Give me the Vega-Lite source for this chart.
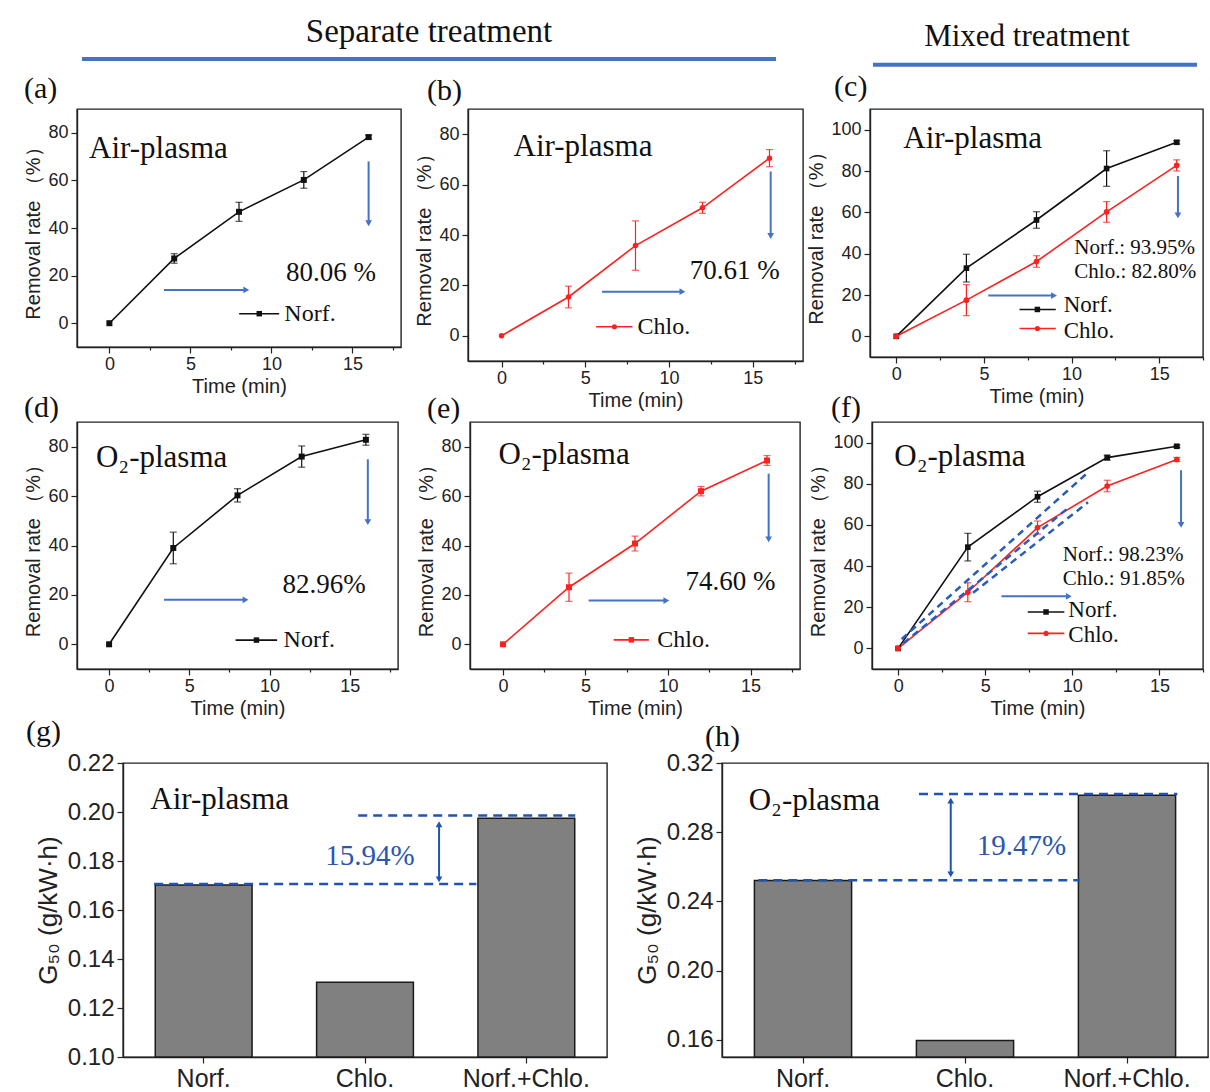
{
"$schema": "https://vega.github.io/schema/vega-lite/v6.json",
"autosize": {"type": "pad"},
"padding": {"left": 23, "top": 15, "right": 0, "bottom": 0},
"background": "white",
"config": {
 "font": "Liberation Sans",
 "view": {"stroke": "#222", "strokeWidth": 1.4},
 "axis": {"labelFont": "Liberation Sans", "labelFontSize": 18, "labelColor": "#222", "titleFont": "Liberation Sans", "titleFontSize": 20, "titleFontWeight": "normal", "titleColor": "#222", "domainColor": "#222", "domainWidth": 1.4, "tickColor": "#222", "tickWidth": 1.2, "grid": false, "labelPadding": 3, "titlePadding": 4, "labelOverlap": false},
 "axisX": {"labelPadding": 2, "titlePadding": 3},
 "title": {"font": "Liberation Serif", "fontSize": 30, "fontWeight": "normal", "anchor": "start", "baseline": "bottom", "color": "#111", "frame": "group"}
},
"datasets": {
 "curves": [
  {"panel": "a", "series": "Norf.", "t": 0, "v": 0, "err": 0},
  {"panel": "a", "series": "Norf.", "t": 4, "v": 27.2, "err": 2},
  {"panel": "a", "series": "Norf.", "t": 8, "v": 46.8, "err": 4},
  {"panel": "a", "series": "Norf.", "t": 12, "v": 60.2, "err": 3.5},
  {"panel": "a", "series": "Norf.", "t": 16, "v": 78.2, "err": 0.8},
  {"panel": "b", "series": "Chlo.", "t": 0, "v": 0, "err": 0},
  {"panel": "b", "series": "Chlo.", "t": 4, "v": 15.4, "err": 4.3},
  {"panel": "b", "series": "Chlo.", "t": 8, "v": 35.8, "err": 9.8},
  {"panel": "b", "series": "Chlo.", "t": 12, "v": 50.8, "err": 2.2},
  {"panel": "b", "series": "Chlo.", "t": 16, "v": 70.5, "err": 3.4},
  {"panel": "c", "series": "Norf.", "t": 0, "v": 0, "err": 0},
  {"panel": "c", "series": "Norf.", "t": 4, "v": 33, "err": 6.7},
  {"panel": "c", "series": "Norf.", "t": 8, "v": 56.3, "err": 4},
  {"panel": "c", "series": "Norf.", "t": 12, "v": 81.2, "err": 8.6},
  {"panel": "c", "series": "Norf.", "t": 16, "v": 93.9, "err": 0.8},
  {"panel": "c", "series": "Chlo.", "t": 0, "v": 0, "err": 0},
  {"panel": "c", "series": "Chlo.", "t": 4, "v": 17.5, "err": 7.5},
  {"panel": "c", "series": "Chlo.", "t": 8, "v": 36.2, "err": 2.8},
  {"panel": "c", "series": "Chlo.", "t": 12, "v": 60.2, "err": 5},
  {"panel": "c", "series": "Chlo.", "t": 16, "v": 82.7, "err": 2.7},
  {"panel": "d", "series": "Norf.", "t": 0, "v": 0, "err": 0},
  {"panel": "d", "series": "Norf.", "t": 4, "v": 39, "err": 6.4},
  {"panel": "d", "series": "Norf.", "t": 8, "v": 60.3, "err": 2.7},
  {"panel": "d", "series": "Norf.", "t": 12, "v": 76, "err": 4.3},
  {"panel": "d", "series": "Norf.", "t": 16, "v": 82.8, "err": 2.2},
  {"panel": "e", "series": "Chlo.", "t": 0, "v": 0, "err": 0},
  {"panel": "e", "series": "Chlo.", "t": 4, "v": 23.1, "err": 5.7},
  {"panel": "e", "series": "Chlo.", "t": 8, "v": 40.8, "err": 3},
  {"panel": "e", "series": "Chlo.", "t": 12, "v": 62, "err": 1.9},
  {"panel": "e", "series": "Chlo.", "t": 16, "v": 74.4, "err": 2},
  {"panel": "f", "series": "Norf.", "t": 0, "v": 0, "err": 0},
  {"panel": "f", "series": "Norf.", "t": 4, "v": 49.2, "err": 6.7},
  {"panel": "f", "series": "Norf.", "t": 8, "v": 73.7, "err": 2.7},
  {"panel": "f", "series": "Norf.", "t": 12, "v": 92.7, "err": 1.2},
  {"panel": "f", "series": "Norf.", "t": 16, "v": 98.2, "err": 0.6},
  {"panel": "f", "series": "Chlo.", "t": 0, "v": 0, "err": 0},
  {"panel": "f", "series": "Chlo.", "t": 4, "v": 27.3, "err": 4.6},
  {"panel": "f", "series": "Chlo.", "t": 8, "v": 58.7, "err": 3.2},
  {"panel": "f", "series": "Chlo.", "t": 12, "v": 78.9, "err": 2.8},
  {"panel": "f", "series": "Chlo.", "t": 16, "v": 91.8, "err": 1}
 ],
 "bars": [
  {"panel": "g", "cond": "Norf.", "g50": 0.1702},
  {"panel": "g", "cond": "Chlo.", "g50": 0.1305},
  {"panel": "g", "cond": "Norf.+Chlo.", "g50": 0.1974},
  {"panel": "h", "cond": "Norf.", "g50": 0.2521},
  {"panel": "h", "cond": "Chlo.", "g50": 0.1596},
  {"panel": "h", "cond": "Norf.+Chlo.", "g50": 0.3013}
 ]
},
"spacing": -19,
"vconcat": [
 {
  "bounds": "flush", "spacing": 67,
  "hconcat": [
   {
    "width": 324, "height": 238,
    "data": {"values": [{}]},
    "layer": [
     {"data": {"name": "curves"}, "transform": [{"filter": "datum.panel === 'a' && datum.err > 0"}], "mark": {"type": "errorbar", "ticks": true, "size": 7, "thickness": 1.2}, "encoding": {"x": {"field": "t", "type": "quantitative", "title": "Time (min)"}, "y": {"field": "v", "type": "quantitative", "title": "Removal rate （%）"}, "yError": {"field": "err"}, "color": {"field": "series", "type": "nominal", "scale": {"domain": ["Norf.", "Chlo."], "range": ["#111111", "#ff2020"]}, "legend": null}}},
     {"data": {"name": "curves"}, "transform": [{"filter": "datum.panel === 'a'"}], "mark": {"type": "line", "strokeWidth": 1.6}, "encoding": {
       "x": {"field": "t", "type": "quantitative", "title": "Time (min)", "scale": {"domain": [-2, 18], "nice": false, "zero": false}, "axis": {"title": "Time (min)", "labelOverlap": false, "values": [0, 2.5, 5, 7.5, 10, 12.5, 15, 17.5], "labelExpr": "datum.value % 5 === 0 ? format(datum.value, 'd') : ''", "tickSize": {"condition": {"test": "datum.value % 5 !== 0", "value": 3}, "value": 6}}},
       "y": {"field": "v", "type": "quantitative", "title": "Removal rate （%）", "scale": {"domain": [-10, 90], "nice": false, "zero": false}, "axis": {"title": "Removal rate （%）", "labelOverlap": false, "values": [0, 10, 20, 30, 40, 50, 60, 70, 80], "labelExpr": "datum.value % 20 === 0 ? format(datum.value, 'd') : ''", "tickSize": {"condition": {"test": "datum.value % 20 !== 0", "value": 3}, "value": 6}}},
       "color": {"field": "series", "type": "nominal", "legend": null}}},
     {"data": {"name": "curves"}, "transform": [{"filter": "datum.panel === 'a'"}], "mark": {"type": "point", "shape": "square", "filled": true, "opacity": 1, "size": 36}, "encoding": {"x": {"field": "t", "type": "quantitative", "title": "Time (min)"}, "y": {"field": "v", "type": "quantitative", "title": "Removal rate （%）"}, "color": {"field": "series", "type": "nominal", "legend": null}}},
     {"mark": {"type": "text", "font": "Liberation Serif", "fontSize": 30, "align": "left", "baseline": "middle", "color": "#111"}, "encoding": {"x": {"datum": -5.27}, "y": {"datum": 98.4}, "text": {"value": "(a)"}}},
     {"mark": {"type": "text", "font": "Liberation Serif", "fontSize": 33, "align": "center", "baseline": "middle", "color": "#111"}, "encoding": {"x": {"datum": 19.73}, "y": {"datum": 122.35}, "text": {"value": "Separate treatment"}}},
     {"mark": {"type": "rule", "color": "#4472c4", "strokeWidth": 4}, "encoding": {"x": {"datum": -1.69}, "x2": {"datum": 41.15}, "y": {"datum": 111.0}}},
     {"mark": {"type": "text", "font": "Liberation Serif", "fontSize": 31, "align": "left", "baseline": "middle", "color": "#111"}, "encoding": {"x": {"datum": -1.26}, "y": {"datum": 73}, "text": {"value": "Air-plasma"}}},
     {"mark": {"type": "text", "font": "Liberation Serif", "fontSize": 27, "align": "center", "baseline": "middle", "color": "#111"}, "encoding": {"x": {"datum": 13.68}, "y": {"datum": 21.1}, "text": {"value": "80.06 %"}}},
     {"mark": {"type": "rule", "color": "#4472c4", "strokeWidth": 2}, "encoding": {"x": {"datum": 3.37}, "x2": {"datum": 8.45}, "y": {"datum": 14}}},
     {"mark": {"type": "point", "shape": "triangle-right", "filled": true, "opacity": 1, "color": "#4472c4", "size": 45}, "encoding": {"x": {"datum": 8.45}, "y": {"datum": 14}}},
     {"mark": {"type": "rule", "color": "#4472c4", "strokeWidth": 2}, "encoding": {"x": {"datum": 16.0}, "y": {"datum": 68}, "y2": {"datum": 42}}},
     {"mark": {"type": "point", "shape": "triangle-down", "filled": true, "opacity": 1, "color": "#4472c4", "size": 45}, "encoding": {"x": {"datum": 16.0}, "y": {"datum": 42}}},
     {"mark": {"type": "rule", "color": "#111111", "strokeWidth": 1.6}, "encoding": {"x": {"datum": 8.01}, "x2": {"datum": 10.48}, "y": {"datum": 4}}},
     {"mark": {"type": "point", "shape": "square", "filled": true, "opacity": 1, "color": "#111111", "size": 30}, "encoding": {"x": {"datum": 9.25}, "y": {"datum": 4}}},
     {"mark": {"type": "text", "font": "Liberation Serif", "fontSize": 24, "align": "left", "baseline": "middle", "color": "#111"}, "encoding": {"x": {"datum": 10.8}, "y": {"datum": 4}, "text": {"value": "Norf."}}}
    ]
   },
   {
    "width": 335, "height": 252,
    "title": {"text": "(b)", "dx": -41, "offset": 3},
    "data": {"values": [{}]},
    "layer": [
     {"data": {"name": "curves"}, "transform": [{"filter": "datum.panel === 'b' && datum.err > 0"}], "mark": {"type": "errorbar", "ticks": true, "size": 7, "thickness": 1.2}, "encoding": {"x": {"field": "t", "type": "quantitative", "title": "Time (min)"}, "y": {"field": "v", "type": "quantitative", "title": "Removal rate （%）"}, "yError": {"field": "err"}, "color": {"field": "series", "type": "nominal", "scale": {"domain": ["Norf.", "Chlo."], "range": ["#111111", "#ff2020"]}, "legend": null}}},
     {"data": {"name": "curves"}, "transform": [{"filter": "datum.panel === 'b'"}], "mark": {"type": "line", "strokeWidth": 1.6}, "encoding": {
       "x": {"field": "t", "type": "quantitative", "title": "Time (min)", "scale": {"domain": [-2, 18], "nice": false, "zero": false}, "axis": {"title": "Time (min)", "labelOverlap": false, "values": [0, 2.5, 5, 7.5, 10, 12.5, 15, 17.5], "labelExpr": "datum.value % 5 === 0 ? format(datum.value, 'd') : ''", "tickSize": {"condition": {"test": "datum.value % 5 !== 0", "value": 3}, "value": 6}}},
       "y": {"field": "v", "type": "quantitative", "title": "Removal rate （%）", "scale": {"domain": [-10, 90], "nice": false, "zero": false}, "axis": {"title": "Removal rate （%）", "labelOverlap": false, "values": [0, 10, 20, 30, 40, 50, 60, 70, 80], "labelExpr": "datum.value % 20 === 0 ? format(datum.value, 'd') : ''", "tickSize": {"condition": {"test": "datum.value % 20 !== 0", "value": 3}, "value": 6}}},
       "color": {"field": "series", "type": "nominal", "legend": null}}},
     {"data": {"name": "curves"}, "transform": [{"filter": "datum.panel === 'b'"}], "mark": {"type": "point", "shape": "circle", "filled": true, "opacity": 1, "size": 30}, "encoding": {"x": {"field": "t", "type": "quantitative", "title": "Time (min)"}, "y": {"field": "v", "type": "quantitative", "title": "Removal rate （%）"}, "color": {"field": "series", "type": "nominal", "legend": null}}},
     {"mark": {"type": "text", "font": "Liberation Serif", "fontSize": 31, "align": "left", "baseline": "middle", "color": "#111"}, "encoding": {"x": {"datum": 0.72}, "y": {"datum": 75.1}, "text": {"value": "Air-plasma"}}},
     {"mark": {"type": "text", "font": "Liberation Serif", "fontSize": 27, "align": "center", "baseline": "middle", "color": "#111"}, "encoding": {"x": {"datum": 13.92}, "y": {"datum": 25.8}, "text": {"value": "70.61 %"}}},
     {"mark": {"type": "rule", "color": "#4472c4", "strokeWidth": 2}, "encoding": {"x": {"datum": 6.0}, "x2": {"datum": 10.8}, "y": {"datum": 17.5}}},
     {"mark": {"type": "point", "shape": "triangle-right", "filled": true, "opacity": 1, "color": "#4472c4", "size": 45}, "encoding": {"x": {"datum": 10.8}, "y": {"datum": 17.5}}},
     {"mark": {"type": "rule", "color": "#4472c4", "strokeWidth": 2}, "encoding": {"x": {"datum": 16.07}, "y": {"datum": 65.2}, "y2": {"datum": 39.6}}},
     {"mark": {"type": "point", "shape": "triangle-down", "filled": true, "opacity": 1, "color": "#4472c4", "size": 45}, "encoding": {"x": {"datum": 16.07}, "y": {"datum": 39.6}}},
     {"mark": {"type": "rule", "color": "#ff2020", "strokeWidth": 1.6}, "encoding": {"x": {"datum": 5.65}, "x2": {"datum": 7.82}, "y": {"datum": 3.6}}},
     {"mark": {"type": "point", "shape": "circle", "filled": true, "opacity": 1, "color": "#ff2020", "size": 26}, "encoding": {"x": {"datum": 6.74}, "y": {"datum": 3.6}}},
     {"mark": {"type": "text", "font": "Liberation Serif", "fontSize": 24, "align": "left", "baseline": "middle", "color": "#111"}, "encoding": {"x": {"datum": 8.12}, "y": {"datum": 3.6}, "text": {"value": "Chlo."}}}
    ]
   },
   {
    "width": 333, "height": 248,
    "data": {"values": [{}]},
    "layer": [
     {"data": {"name": "curves"}, "transform": [{"filter": "datum.panel === 'c' && datum.err > 0"}], "mark": {"type": "errorbar", "ticks": true, "size": 7, "thickness": 1.2}, "encoding": {"x": {"field": "t", "type": "quantitative", "title": "Time (min)"}, "y": {"field": "v", "type": "quantitative", "title": "Removal rate （%）"}, "yError": {"field": "err"}, "color": {"field": "series", "type": "nominal", "scale": {"domain": ["Norf.", "Chlo."], "range": ["#111111", "#ff2020"]}, "legend": null}}},
     {"data": {"name": "curves"}, "transform": [{"filter": "datum.panel === 'c'"}], "mark": {"type": "line", "strokeWidth": 1.6}, "encoding": {
       "x": {"field": "t", "type": "quantitative", "title": "Time (min)", "scale": {"domain": [-1.5, 17.5], "nice": false, "zero": false}, "axis": {"title": "Time (min)", "labelOverlap": false, "values": [0, 2.5, 5, 7.5, 10, 12.5, 15, 17.5], "labelExpr": "datum.value % 5 === 0 ? format(datum.value, 'd') : ''", "tickSize": {"condition": {"test": "datum.value % 5 !== 0", "value": 3}, "value": 6}}},
       "y": {"field": "v", "type": "quantitative", "title": "Removal rate （%）", "scale": {"domain": [-10, 110], "nice": false, "zero": false}, "axis": {"title": "Removal rate （%）", "labelOverlap": false, "values": [0, 10, 20, 30, 40, 50, 60, 70, 80, 90, 100], "labelExpr": "datum.value % 20 === 0 ? format(datum.value, 'd') : ''", "tickSize": {"condition": {"test": "datum.value % 20 !== 0", "value": 3}, "value": 6}}},
       "color": {"field": "series", "type": "nominal", "legend": null}}},
     {"data": {"name": "curves"}, "transform": [{"filter": "datum.panel === 'c'"}], "mark": {"type": "point", "filled": true, "opacity": 1, "size": 32}, "encoding": {"x": {"field": "t", "type": "quantitative", "title": "Time (min)"}, "y": {"field": "v", "type": "quantitative", "title": "Removal rate （%）"}, "color": {"field": "series", "type": "nominal", "legend": null}, "shape": {"field": "series", "type": "nominal", "scale": {"domain": ["Norf.", "Chlo."], "range": ["square", "circle"]}, "legend": null}}},
     {"mark": {"type": "text", "font": "Liberation Serif", "fontSize": 30, "align": "left", "baseline": "middle", "color": "#111"}, "encoding": {"x": {"datum": -3.55}, "y": {"datum": 120.6}, "text": {"value": "(c)"}}},
     {"mark": {"type": "text", "font": "Liberation Serif", "fontSize": 31, "align": "center", "baseline": "middle", "color": "#111"}, "encoding": {"x": {"datum": 7.46}, "y": {"datum": 144.8}, "text": {"value": "Mixed treatment"}}},
     {"mark": {"type": "rule", "color": "#4472c4", "strokeWidth": 4}, "encoding": {"x": {"datum": -1.33}, "x2": {"datum": 17.16}, "y": {"datum": 131.4}}},
     {"mark": {"type": "text", "font": "Liberation Serif", "fontSize": 31, "align": "left", "baseline": "middle", "color": "#111"}, "encoding": {"x": {"datum": 0.4}, "y": {"datum": 95.5}, "text": {"value": "Air-plasma"}}},
     {"mark": {"type": "text", "font": "Liberation Serif", "fontSize": 21, "align": "left", "baseline": "middle", "color": "#111"}, "encoding": {"x": {"datum": 10.16}, "y": {"datum": 42.7}, "text": {"value": "Norf.: 93.95%"}}},
     {"mark": {"type": "text", "font": "Liberation Serif", "fontSize": 21, "align": "left", "baseline": "middle", "color": "#111"}, "encoding": {"x": {"datum": 10.16}, "y": {"datum": 31}, "text": {"value": "Chlo.: 82.80%"}}},
     {"mark": {"type": "rule", "color": "#4472c4", "strokeWidth": 2}, "encoding": {"x": {"datum": 5.25}, "x2": {"datum": 9.0}, "y": {"datum": 19.7}}},
     {"mark": {"type": "point", "shape": "triangle-right", "filled": true, "opacity": 1, "color": "#4472c4", "size": 45}, "encoding": {"x": {"datum": 9.0}, "y": {"datum": 19.7}}},
     {"mark": {"type": "rule", "color": "#4472c4", "strokeWidth": 2}, "encoding": {"x": {"datum": 16.07}, "y": {"datum": 77.6}, "y2": {"datum": 58.5}}},
     {"mark": {"type": "point", "shape": "triangle-down", "filled": true, "opacity": 1, "color": "#4472c4", "size": 45}, "encoding": {"x": {"datum": 16.07}, "y": {"datum": 58.5}}},
     {"mark": {"type": "rule", "color": "#111111", "strokeWidth": 1.6}, "encoding": {"x": {"datum": 7.03}, "x2": {"datum": 9.1}, "y": {"datum": 13}}},
     {"mark": {"type": "point", "shape": "square", "filled": true, "opacity": 1, "color": "#111111", "size": 30}, "encoding": {"x": {"datum": 8.05}, "y": {"datum": 13}}},
     {"mark": {"type": "text", "font": "Liberation Serif", "fontSize": 23, "align": "left", "baseline": "middle", "color": "#111"}, "encoding": {"x": {"datum": 9.55}, "y": {"datum": 15}, "text": {"value": "Norf."}}},
     {"mark": {"type": "rule", "color": "#ff2020", "strokeWidth": 1.6}, "encoding": {"x": {"datum": 7.03}, "x2": {"datum": 9.1}, "y": {"datum": 3.8}}},
     {"mark": {"type": "point", "shape": "circle", "filled": true, "opacity": 1, "color": "#ff2020", "size": 26}, "encoding": {"x": {"datum": 8.05}, "y": {"datum": 3.8}}},
     {"mark": {"type": "text", "font": "Liberation Serif", "fontSize": 23, "align": "left", "baseline": "middle", "color": "#111"}, "encoding": {"x": {"datum": 9.55}, "y": {"datum": 2.5}, "text": {"value": "Chlo."}}}
    ]
   }
  ]
 },
 {
  "spacing": -3,
  "vconcat": [
   {
    "bounds": "flush", "spacing": 72,
    "hconcat": [
     {
      "width": 321, "height": 247,
      "title": {"text": "(d)", "dx": -53, "offset": -1},
      "data": {"values": [{}]},
      "layer": [
       {"data": {"name": "curves"}, "transform": [{"filter": "datum.panel === 'd' && datum.err > 0"}], "mark": {"type": "errorbar", "ticks": true, "size": 7, "thickness": 1.2}, "encoding": {"x": {"field": "t", "type": "quantitative", "title": "Time (min)"}, "y": {"field": "v", "type": "quantitative", "title": "Removal rate （%）"}, "yError": {"field": "err"}, "color": {"field": "series", "type": "nominal", "scale": {"domain": ["Norf.", "Chlo."], "range": ["#111111", "#ff2020"]}, "legend": null}}},
       {"data": {"name": "curves"}, "transform": [{"filter": "datum.panel === 'd'"}], "mark": {"type": "line", "strokeWidth": 1.6}, "encoding": {
         "x": {"field": "t", "type": "quantitative", "title": "Time (min)", "scale": {"domain": [-2, 18], "nice": false, "zero": false}, "axis": {"title": "Time (min)", "labelOverlap": false, "values": [0, 2.5, 5, 7.5, 10, 12.5, 15, 17.5], "labelExpr": "datum.value % 5 === 0 ? format(datum.value, 'd') : ''", "tickSize": {"condition": {"test": "datum.value % 5 !== 0", "value": 3}, "value": 6}}},
         "y": {"field": "v", "type": "quantitative", "title": "Removal rate （%）", "scale": {"domain": [-10, 90], "nice": false, "zero": false}, "axis": {"title": "Removal rate （%）", "labelOverlap": false, "values": [0, 10, 20, 30, 40, 50, 60, 70, 80], "labelExpr": "datum.value % 20 === 0 ? format(datum.value, 'd') : ''", "tickSize": {"condition": {"test": "datum.value % 20 !== 0", "value": 3}, "value": 6}}},
         "color": {"field": "series", "type": "nominal", "legend": null}}},
       {"data": {"name": "curves"}, "transform": [{"filter": "datum.panel === 'd'"}], "mark": {"type": "point", "shape": "square", "filled": true, "opacity": 1, "size": 36}, "encoding": {"x": {"field": "t", "type": "quantitative", "title": "Time (min)"}, "y": {"field": "v", "type": "quantitative", "title": "Removal rate （%）"}, "color": {"field": "series", "type": "nominal", "legend": null}}},
       {"mark": {"type": "text", "font": "Liberation Serif", "fontSize": 31, "align": "left", "baseline": "middle", "color": "#111"}, "encoding": {"x": {"datum": -0.82}, "y": {"datum": 75.6}, "text": {"value": "O₂-plasma"}}},
       {"mark": {"type": "text", "font": "Liberation Serif", "fontSize": 27, "align": "center", "baseline": "middle", "color": "#111"}, "encoding": {"x": {"datum": 13.4}, "y": {"datum": 24.1}, "text": {"value": "82.96%"}}},
       {"mark": {"type": "rule", "color": "#4472c4", "strokeWidth": 2}, "encoding": {"x": {"datum": 3.42}, "x2": {"datum": 8.5}, "y": {"datum": 18}}},
       {"mark": {"type": "point", "shape": "triangle-right", "filled": true, "opacity": 1, "color": "#4472c4", "size": 45}, "encoding": {"x": {"datum": 8.5}, "y": {"datum": 18}}},
       {"mark": {"type": "rule", "color": "#4472c4", "strokeWidth": 2}, "encoding": {"x": {"datum": 16.12}, "y": {"datum": 74.9}, "y2": {"datum": 49.5}}},
       {"mark": {"type": "point", "shape": "triangle-down", "filled": true, "opacity": 1, "color": "#4472c4", "size": 45}, "encoding": {"x": {"datum": 16.12}, "y": {"datum": 49.5}}},
       {"mark": {"type": "rule", "color": "#111111", "strokeWidth": 1.6}, "encoding": {"x": {"datum": 7.88}, "x2": {"datum": 10.47}, "y": {"datum": 1.7}}},
       {"mark": {"type": "point", "shape": "square", "filled": true, "opacity": 1, "color": "#111111", "size": 30}, "encoding": {"x": {"datum": 9.18}, "y": {"datum": 1.7}}},
       {"mark": {"type": "text", "font": "Liberation Serif", "fontSize": 24, "align": "left", "baseline": "middle", "color": "#111"}, "encoding": {"x": {"datum": 10.87}, "y": {"datum": 1.7}, "text": {"value": "Norf."}}}
      ]
     },
     {
      "width": 330, "height": 247,
      "title": {"text": "(e)", "dx": -43, "offset": -2},
      "data": {"values": [{}]},
      "layer": [
       {"data": {"name": "curves"}, "transform": [{"filter": "datum.panel === 'e' && datum.err > 0"}], "mark": {"type": "errorbar", "ticks": true, "size": 7, "thickness": 1.2}, "encoding": {"x": {"field": "t", "type": "quantitative", "title": "Time (min)"}, "y": {"field": "v", "type": "quantitative", "title": "Removal rate （%）"}, "yError": {"field": "err"}, "color": {"field": "series", "type": "nominal", "scale": {"domain": ["Norf.", "Chlo."], "range": ["#111111", "#ff2020"]}, "legend": null}}},
       {"data": {"name": "curves"}, "transform": [{"filter": "datum.panel === 'e'"}], "mark": {"type": "line", "strokeWidth": 1.6}, "encoding": {
         "x": {"field": "t", "type": "quantitative", "title": "Time (min)", "scale": {"domain": [-2, 18], "nice": false, "zero": false}, "axis": {"title": "Time (min)", "labelOverlap": false, "values": [0, 2.5, 5, 7.5, 10, 12.5, 15, 17.5], "labelExpr": "datum.value % 5 === 0 ? format(datum.value, 'd') : ''", "tickSize": {"condition": {"test": "datum.value % 5 !== 0", "value": 3}, "value": 6}}},
         "y": {"field": "v", "type": "quantitative", "title": "Removal rate （%）", "scale": {"domain": [-10, 90], "nice": false, "zero": false}, "axis": {"title": "Removal rate （%）", "labelOverlap": false, "values": [0, 10, 20, 30, 40, 50, 60, 70, 80], "labelExpr": "datum.value % 20 === 0 ? format(datum.value, 'd') : ''", "tickSize": {"condition": {"test": "datum.value % 20 !== 0", "value": 3}, "value": 6}}},
         "color": {"field": "series", "type": "nominal", "legend": null}}},
       {"data": {"name": "curves"}, "transform": [{"filter": "datum.panel === 'e'"}], "mark": {"type": "point", "shape": "square", "filled": true, "opacity": 1, "size": 36}, "encoding": {"x": {"field": "t", "type": "quantitative", "title": "Time (min)"}, "y": {"field": "v", "type": "quantitative", "title": "Removal rate （%）"}, "color": {"field": "series", "type": "nominal", "legend": null}}},
       {"mark": {"type": "text", "font": "Liberation Serif", "fontSize": 31, "align": "left", "baseline": "middle", "color": "#111"}, "encoding": {"x": {"datum": -0.28}, "y": {"datum": 76.6}, "text": {"value": "O₂-plasma"}}},
       {"mark": {"type": "text", "font": "Liberation Serif", "fontSize": 27, "align": "center", "baseline": "middle", "color": "#111"}, "encoding": {"x": {"datum": 13.79}, "y": {"datum": 25.3}, "text": {"value": "74.60 %"}}},
       {"mark": {"type": "rule", "color": "#4472c4", "strokeWidth": 2}, "encoding": {"x": {"datum": 5.19}, "x2": {"datum": 9.9}, "y": {"datum": 17.7}}},
       {"mark": {"type": "point", "shape": "triangle-right", "filled": true, "opacity": 1, "color": "#4472c4", "size": 45}, "encoding": {"x": {"datum": 9.9}, "y": {"datum": 17.7}}},
       {"mark": {"type": "rule", "color": "#4472c4", "strokeWidth": 2}, "encoding": {"x": {"datum": 16.1}, "y": {"datum": 69.1}, "y2": {"datum": 42.5}}},
       {"mark": {"type": "point", "shape": "triangle-down", "filled": true, "opacity": 1, "color": "#4472c4", "size": 45}, "encoding": {"x": {"datum": 16.1}, "y": {"datum": 42.5}}},
       {"mark": {"type": "rule", "color": "#ff2020", "strokeWidth": 1.6}, "encoding": {"x": {"datum": 6.71}, "x2": {"datum": 8.84}, "y": {"datum": 1.8}}},
       {"mark": {"type": "point", "shape": "square", "filled": true, "opacity": 1, "color": "#ff2020", "size": 30}, "encoding": {"x": {"datum": 7.78}, "y": {"datum": 1.8}}},
       {"mark": {"type": "text", "font": "Liberation Serif", "fontSize": 24, "align": "left", "baseline": "middle", "color": "#111"}, "encoding": {"x": {"datum": 9.35}, "y": {"datum": 1.8}, "text": {"value": "Chlo."}}}
      ]
     },
     {
      "width": 331, "height": 247,
      "title": {"text": "(f)", "dx": -41, "offset": -1},
      "data": {"values": [{}]},
      "layer": [
       {"data": {"name": "curves"}, "transform": [{"filter": "datum.panel === 'f' && datum.err > 0"}], "mark": {"type": "errorbar", "ticks": true, "size": 7, "thickness": 1.2}, "encoding": {"x": {"field": "t", "type": "quantitative", "title": "Time (min)"}, "y": {"field": "v", "type": "quantitative", "title": "Removal rate （%）"}, "yError": {"field": "err"}, "color": {"field": "series", "type": "nominal", "scale": {"domain": ["Norf.", "Chlo."], "range": ["#111111", "#ff2020"]}, "legend": null}}},
       {"data": {"name": "curves"}, "transform": [{"filter": "datum.panel === 'f'"}], "mark": {"type": "line", "strokeWidth": 1.6}, "encoding": {
         "x": {"field": "t", "type": "quantitative", "title": "Time (min)", "scale": {"domain": [-1.5, 17.5], "nice": false, "zero": false}, "axis": {"title": "Time (min)", "labelOverlap": false, "values": [0, 2.5, 5, 7.5, 10, 12.5, 15, 17.5], "labelExpr": "datum.value % 5 === 0 ? format(datum.value, 'd') : ''", "tickSize": {"condition": {"test": "datum.value % 5 !== 0", "value": 3}, "value": 6}}},
         "y": {"field": "v", "type": "quantitative", "title": "Removal rate （%）", "scale": {"domain": [-10, 110], "nice": false, "zero": false}, "axis": {"title": "Removal rate （%）", "labelOverlap": false, "values": [0, 10, 20, 30, 40, 50, 60, 70, 80, 90, 100], "labelExpr": "datum.value % 20 === 0 ? format(datum.value, 'd') : ''", "tickSize": {"condition": {"test": "datum.value % 20 !== 0", "value": 3}, "value": 6}}},
         "color": {"field": "series", "type": "nominal", "legend": null}}},
       {"data": {"name": "curves"}, "transform": [{"filter": "datum.panel === 'f'"}], "mark": {"type": "point", "filled": true, "opacity": 1, "size": 32}, "encoding": {"x": {"field": "t", "type": "quantitative", "title": "Time (min)"}, "y": {"field": "v", "type": "quantitative", "title": "Removal rate （%）"}, "color": {"field": "series", "type": "nominal", "legend": null}, "shape": {"field": "series", "type": "nominal", "scale": {"domain": ["Norf.", "Chlo."], "range": ["square", "circle"]}, "legend": null}}},
       {"mark": {"type": "rule", "color": "#2a5cbf", "strokeWidth": 2.5, "strokeDash": [7, 5]}, "encoding": {"x": {"datum": 0.2}, "y": {"datum": 4.5}, "x2": {"datum": 10.9}, "y2": {"datum": 85.5}}},
       {"mark": {"type": "rule", "color": "#2a5cbf", "strokeWidth": 2.5, "strokeDash": [7, 5]}, "encoding": {"x": {"datum": 0.3}, "y": {"datum": 2.5}, "x2": {"datum": 9.8}, "y2": {"datum": 68.5}}},
       {"mark": {"type": "rule", "color": "#2a5cbf", "strokeWidth": 2.5, "strokeDash": [7, 5]}, "encoding": {"x": {"datum": 4.3}, "y": {"datum": 27}, "x2": {"datum": 10.9}, "y2": {"datum": 71}}},
       {"mark": {"type": "text", "font": "Liberation Serif", "fontSize": 31, "align": "left", "baseline": "middle", "color": "#111"}, "encoding": {"x": {"datum": -0.22}, "y": {"datum": 93}, "text": {"value": "O₂-plasma"}}},
       {"mark": {"type": "text", "font": "Liberation Serif", "fontSize": 21, "align": "left", "baseline": "middle", "color": "#111"}, "encoding": {"x": {"datum": 9.45}, "y": {"datum": 45.5}, "text": {"value": "Norf.: 98.23%"}}},
       {"mark": {"type": "text", "font": "Liberation Serif", "fontSize": 21, "align": "left", "baseline": "middle", "color": "#111"}, "encoding": {"x": {"datum": 9.45}, "y": {"datum": 33.9}, "text": {"value": "Chlo.: 91.85%"}}},
       {"mark": {"type": "rule", "color": "#4472c4", "strokeWidth": 2}, "encoding": {"x": {"datum": 5.93}, "x2": {"datum": 9.8}, "y": {"datum": 25.3}}},
       {"mark": {"type": "point", "shape": "triangle-right", "filled": true, "opacity": 1, "color": "#4472c4", "size": 45}, "encoding": {"x": {"datum": 9.8}, "y": {"datum": 25.3}}},
       {"mark": {"type": "rule", "color": "#4472c4", "strokeWidth": 2}, "encoding": {"x": {"datum": 16.24}, "y": {"datum": 86.6}, "y2": {"datum": 60}}},
       {"mark": {"type": "point", "shape": "triangle-down", "filled": true, "opacity": 1, "color": "#4472c4", "size": 45}, "encoding": {"x": {"datum": 16.24}, "y": {"datum": 60}}},
       {"mark": {"type": "rule", "color": "#111111", "strokeWidth": 1.6}, "encoding": {"x": {"datum": 7.44}, "x2": {"datum": 9.54}, "y": {"datum": 17.7}}},
       {"mark": {"type": "point", "shape": "square", "filled": true, "opacity": 1, "color": "#111111", "size": 30}, "encoding": {"x": {"datum": 8.49}, "y": {"datum": 17.7}}},
       {"mark": {"type": "text", "font": "Liberation Serif", "fontSize": 23, "align": "left", "baseline": "middle", "color": "#111"}, "encoding": {"x": {"datum": 9.77}, "y": {"datum": 18.5}, "text": {"value": "Norf."}}},
       {"mark": {"type": "rule", "color": "#ff2020", "strokeWidth": 1.6}, "encoding": {"x": {"datum": 7.44}, "x2": {"datum": 9.54}, "y": {"datum": 7.3}}},
       {"mark": {"type": "point", "shape": "circle", "filled": true, "opacity": 1, "color": "#ff2020", "size": 26}, "encoding": {"x": {"datum": 8.49}, "y": {"datum": 7.3}}},
       {"mark": {"type": "text", "font": "Liberation Serif", "fontSize": 23, "align": "left", "baseline": "middle", "color": "#111"}, "encoding": {"x": {"datum": 9.77}, "y": {"datum": 6.3}, "text": {"value": "Chlo."}}}
      ]
     }
    ]
   },
   {
    "bounds": "flush", "spacing": 0,
    "hconcat": [
     {"width": 46, "height": 1, "view": {"stroke": null}, "data": {"values": []}, "mark": "point"},
     {
      "width": 484, "height": 294,
      "title": {"text": "(g)", "dx": -97, "offset": 4},
      "resolve": {"scale": {"x": "independent"}, "axis": {"x": "independent"}},
      "layer": [
       {"data": {"name": "bars"}, "transform": [{"filter": "datum.panel === 'g'"}],
        "mark": {"type": "bar", "color": "#808080", "stroke": "#1a1a1a", "strokeWidth": 1.5},
        "encoding": {
         "x": {"field": "cond", "type": "nominal", "sort": ["Norf.", "Chlo.", "Norf.+Chlo."], "scale": {"paddingInner": 0.4, "paddingOuter": 0.2}, "axis": {"title": null, "labelAngle": 0, "labelFontSize": 25, "tickSize": 6, "labelPadding": 3}},
         "y": {"field": "g50", "type": "quantitative", "scale": {"domain": [0.10, 0.22], "nice": false, "zero": false}, "axis": {"title": "G₅₀ (g/kW·h)", "titleFontSize": 26, "labelFontSize": 24, "titlePadding": 6, "labelOverlap": false, "values": [0.10, 0.11, 0.12, 0.13, 0.14, 0.15, 0.16, 0.17, 0.18, 0.19, 0.20, 0.21, 0.22], "labelExpr": "round(datum.value * 100) % 2 === 0 ? format(datum.value, '.2f') : ''", "tickSize": {"condition": {"test": "round(datum.value * 100) % 2 !== 0", "value": 3}, "value": 6}}},
         "y2": {"datum": 0.10}
        }},
       {
        "data": {"values": [{}]},
        "layer": [
         {"mark": {"type": "text", "font": "Liberation Serif", "fontSize": 31, "align": "left", "baseline": "middle", "color": "#111"}, "encoding": {"x": {"datum": 0.169, "type": "quantitative", "scale": {"domain": [0, 3], "nice": false, "zero": false}, "axis": null}, "y": {"datum": 0.2048, "type": "quantitative"}, "text": {"value": "Air-plasma"}}},
         {"mark": {"type": "rule", "color": "#2153b4", "strokeWidth": 2.5, "strokeDash": [9, 6]}, "encoding": {"x": {"datum": 0.193, "type": "quantitative"}, "x2": {"datum": 2.19}, "y": {"datum": 0.1706, "type": "quantitative"}}},
         {"mark": {"type": "rule", "color": "#2153b4", "strokeWidth": 2.5, "strokeDash": [9, 6]}, "encoding": {"x": {"datum": 1.458, "type": "quantitative"}, "x2": {"datum": 2.803}, "y": {"datum": 0.1986, "type": "quantitative"}}},
         {"mark": {"type": "rule", "color": "#2153b4", "strokeWidth": 2}, "encoding": {"x": {"datum": 1.959, "type": "quantitative"}, "y": {"datum": 0.1722, "type": "quantitative"}, "y2": {"datum": 0.1953}}},
         {"mark": {"type": "point", "shape": "triangle-up", "filled": true, "opacity": 1, "color": "#2153b4", "size": 45}, "encoding": {"x": {"datum": 1.959, "type": "quantitative"}, "y": {"datum": 0.1950, "type": "quantitative"}}},
         {"mark": {"type": "point", "shape": "triangle-down", "filled": true, "opacity": 1, "color": "#2153b4", "size": 45}, "encoding": {"x": {"datum": 1.959, "type": "quantitative"}, "y": {"datum": 0.1725, "type": "quantitative"}}},
         {"mark": {"type": "text", "font": "Liberation Serif", "fontSize": 29, "align": "center", "baseline": "middle", "color": "#2a56b0"}, "encoding": {"x": {"datum": 1.53, "type": "quantitative"}, "y": {"datum": 0.182, "type": "quantitative"}, "text": {"value": "15.94%"}}}
        ]
       }
      ]
     },
     {"width": 115, "height": 1, "view": {"stroke": null}, "data": {"values": []}, "mark": "point"},
     {
      "width": 486, "height": 294,
      "title": {"text": "(h)", "dx": -17, "offset": -1},
      "resolve": {"scale": {"x": "independent"}, "axis": {"x": "independent"}},
      "layer": [
       {"data": {"name": "bars"}, "transform": [{"filter": "datum.panel === 'h'"}],
        "mark": {"type": "bar", "color": "#808080", "stroke": "#1a1a1a", "strokeWidth": 1.5},
        "encoding": {
         "x": {"field": "cond", "type": "nominal", "sort": ["Norf.", "Chlo.", "Norf.+Chlo."], "scale": {"paddingInner": 0.4, "paddingOuter": 0.2}, "axis": {"title": null, "labelAngle": 0, "labelFontSize": 25, "tickSize": 6, "labelPadding": 3}},
         "y": {"field": "g50", "type": "quantitative", "scale": {"domain": [0.15, 0.32], "nice": false, "zero": false}, "axis": {"title": "G₅₀ (g/kW·h)", "titleFontSize": 26, "labelFontSize": 24, "titlePadding": 6, "labelOverlap": false, "values": [0.16, 0.18, 0.20, 0.22, 0.24, 0.26, 0.28, 0.30, 0.32], "format": ".2f", "tickSize": 6}},
         "y2": {"datum": 0.15}
        }},
       {
        "data": {"values": [{}]},
        "layer": [
         {"mark": {"type": "text", "font": "Liberation Serif", "fontSize": 31, "align": "left", "baseline": "middle", "color": "#111"}, "encoding": {"x": {"datum": 0.165, "type": "quantitative", "scale": {"domain": [0, 3], "nice": false, "zero": false}, "axis": null}, "y": {"datum": 0.2982, "type": "quantitative"}, "text": {"value": "O₂-plasma"}}},
         {"mark": {"type": "rule", "color": "#2153b4", "strokeWidth": 2.5, "strokeDash": [9, 6]}, "encoding": {"x": {"datum": 0.224, "type": "quantitative"}, "x2": {"datum": 2.209}, "y": {"datum": 0.2522, "type": "quantitative"}}},
         {"mark": {"type": "rule", "color": "#2153b4", "strokeWidth": 2.5, "strokeDash": [9, 6]}, "encoding": {"x": {"datum": 1.216, "type": "quantitative"}, "x2": {"datum": 2.811}, "y": {"datum": 0.3021, "type": "quantitative"}}},
         {"mark": {"type": "rule", "color": "#2153b4", "strokeWidth": 2}, "encoding": {"x": {"datum": 1.412, "type": "quantitative"}, "y": {"datum": 0.2553, "type": "quantitative"}, "y2": {"datum": 0.2985}}},
         {"mark": {"type": "point", "shape": "triangle-up", "filled": true, "opacity": 1, "color": "#2153b4", "size": 45}, "encoding": {"x": {"datum": 1.412, "type": "quantitative"}, "y": {"datum": 0.2982, "type": "quantitative"}}},
         {"mark": {"type": "point", "shape": "triangle-down", "filled": true, "opacity": 1, "color": "#2153b4", "size": 45}, "encoding": {"x": {"datum": 1.412, "type": "quantitative"}, "y": {"datum": 0.2556, "type": "quantitative"}}},
         {"mark": {"type": "text", "font": "Liberation Serif", "fontSize": 29, "align": "center", "baseline": "middle", "color": "#2a56b0"}, "encoding": {"x": {"datum": 1.848, "type": "quantitative"}, "y": {"datum": 0.2718, "type": "quantitative"}, "text": {"value": "19.47%"}}}
        ]
       }
      ]
     }
    ]
   }
  ]
 }
]
}
